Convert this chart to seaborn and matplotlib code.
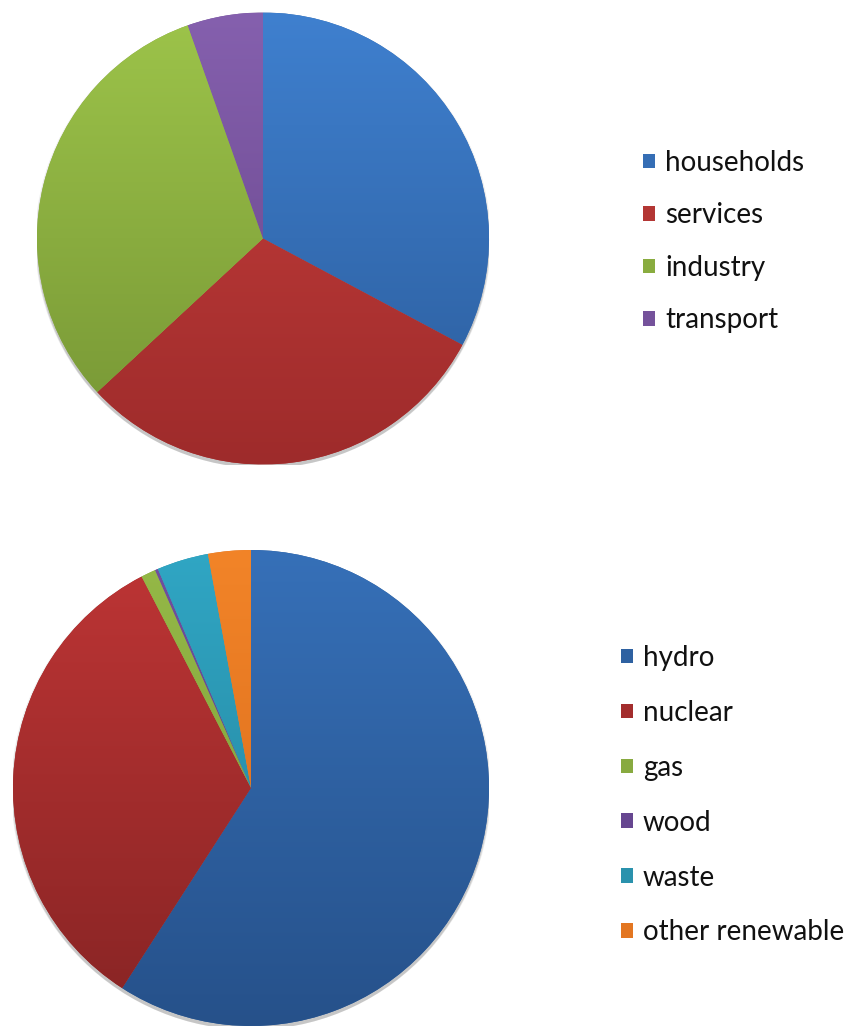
import numpy as np
import seaborn as sns
import matplotlib.pyplot as plt
from matplotlib.colors import LinearSegmentedColormap, to_rgb
from matplotlib.patches import Patch, Circle

# final energy use by sector (%)
sectors = ['households', 'services', 'industry', 'transport']
sector_share = [32.8, 30.3, 31.5, 5.4]

# electricity production by source (%)
sources = ['hydro', 'nuclear', 'gas', 'wood', 'waste', 'other renewable']
source_share = [59.1, 33.3, 1.0, 0.2, 3.5, 2.9]

# (top of gradient, bottom of gradient)
sector_colors = [('#3F80CF', '#2B5C9B'), ('#C9403D', '#9E2B2B'),
                 ('#9DC44A', '#759434'), ('#8560AE', '#654387')]
source_colors = [('#3670B8', '#26518A'), ('#BE3535', '#872424'),
                 ('#95B947', '#7A9A38'), ('#7250A0', '#5A3C80'),
                 ('#30A6C4', '#237E96'), ('#F28428', '#D5681A')]

W, H = 857, 1026


def mid(c):
    a, b = np.array(to_rgb(c[0])), np.array(to_rgb(c[1]))
    return tuple((a + b) / 2)


def gradient_pie(ax, values, colors):
    # soft shadow under the pie
    for k, a in enumerate([0.10, 0.12, 0.15]):
        ax.add_patch(Circle((0, -0.008 - 0.004 * k), 1.0 + 0.004 * (2 - k),
                            color='#555555', alpha=a, lw=0, zorder=0))
    wedges, _ = ax.pie(values, startangle=90, counterclock=False, radius=1,
                       colors=[mid(c) for c in colors],
                       wedgeprops=dict(linewidth=0))
    grad = np.linspace(0, 1, 256).reshape(-1, 1)
    for w, c in zip(wedges, colors):
        w.set_zorder(1)
        cmap = LinearSegmentedColormap.from_list('g', [c[0], c[1]])
        im = ax.imshow(grad, extent=(-1, 1, -1, 1), cmap=cmap, origin='upper',
                       aspect='auto', zorder=2, interpolation='bilinear')
        im.set_clip_path(w)
    ax.set_xlim(-1, 1)
    ax.set_ylim(-1, 1)
    ax.set_axis_off()
    return wedges


def main():
    sns.set_theme(style='white')
    plt.rcParams['font.family'] = ['Lato', 'DejaVu Sans']

    fig = plt.figure(figsize=(W / 100, H / 100), dpi=100)

    # top pie: centre (263, 238), radius 226 px
    cx, cy, r = 263, 238.5, 226
    ax1 = fig.add_axes([(cx - r) / W, (H - cy - r) / H, 2 * r / W, 2 * r / H])
    gradient_pie(ax1, sector_share, sector_colors)

    # bottom pie: centre (251, 788), radius 238 px
    cx, cy, r = 251, 788, 238
    ax2 = fig.add_axes([(cx - r) / W, (H - cy - r) / H, 2 * r / W, 2 * r / H])
    gradient_pie(ax2, source_share, source_colors)

    legend_kw = dict(frameon=False, fontsize=20, handlelength=0.43,
                     handleheight=0.43, handletextpad=0.36, borderpad=0,
                     borderaxespad=0, bbox_transform=fig.transFigure,
                     loc='upper left', labelcolor='#111111')

    h1 = [Patch(facecolor=mid(c), edgecolor='none') for c in sector_colors]
    fig.legend(h1, sectors, bbox_to_anchor=(643 / W, 1 - 150 / H),
               labelspacing=0.95, **legend_kw)

    h2 = [Patch(facecolor=mid(c), edgecolor='none') for c in source_colors]
    fig.legend(h2, sources, bbox_to_anchor=(621 / W, 1 - 645 / H),
               labelspacing=1.04, **legend_kw)

    fig.savefig('out.png', dpi=100)
    plt.close(fig)


if __name__ == '__main__':
    main()
